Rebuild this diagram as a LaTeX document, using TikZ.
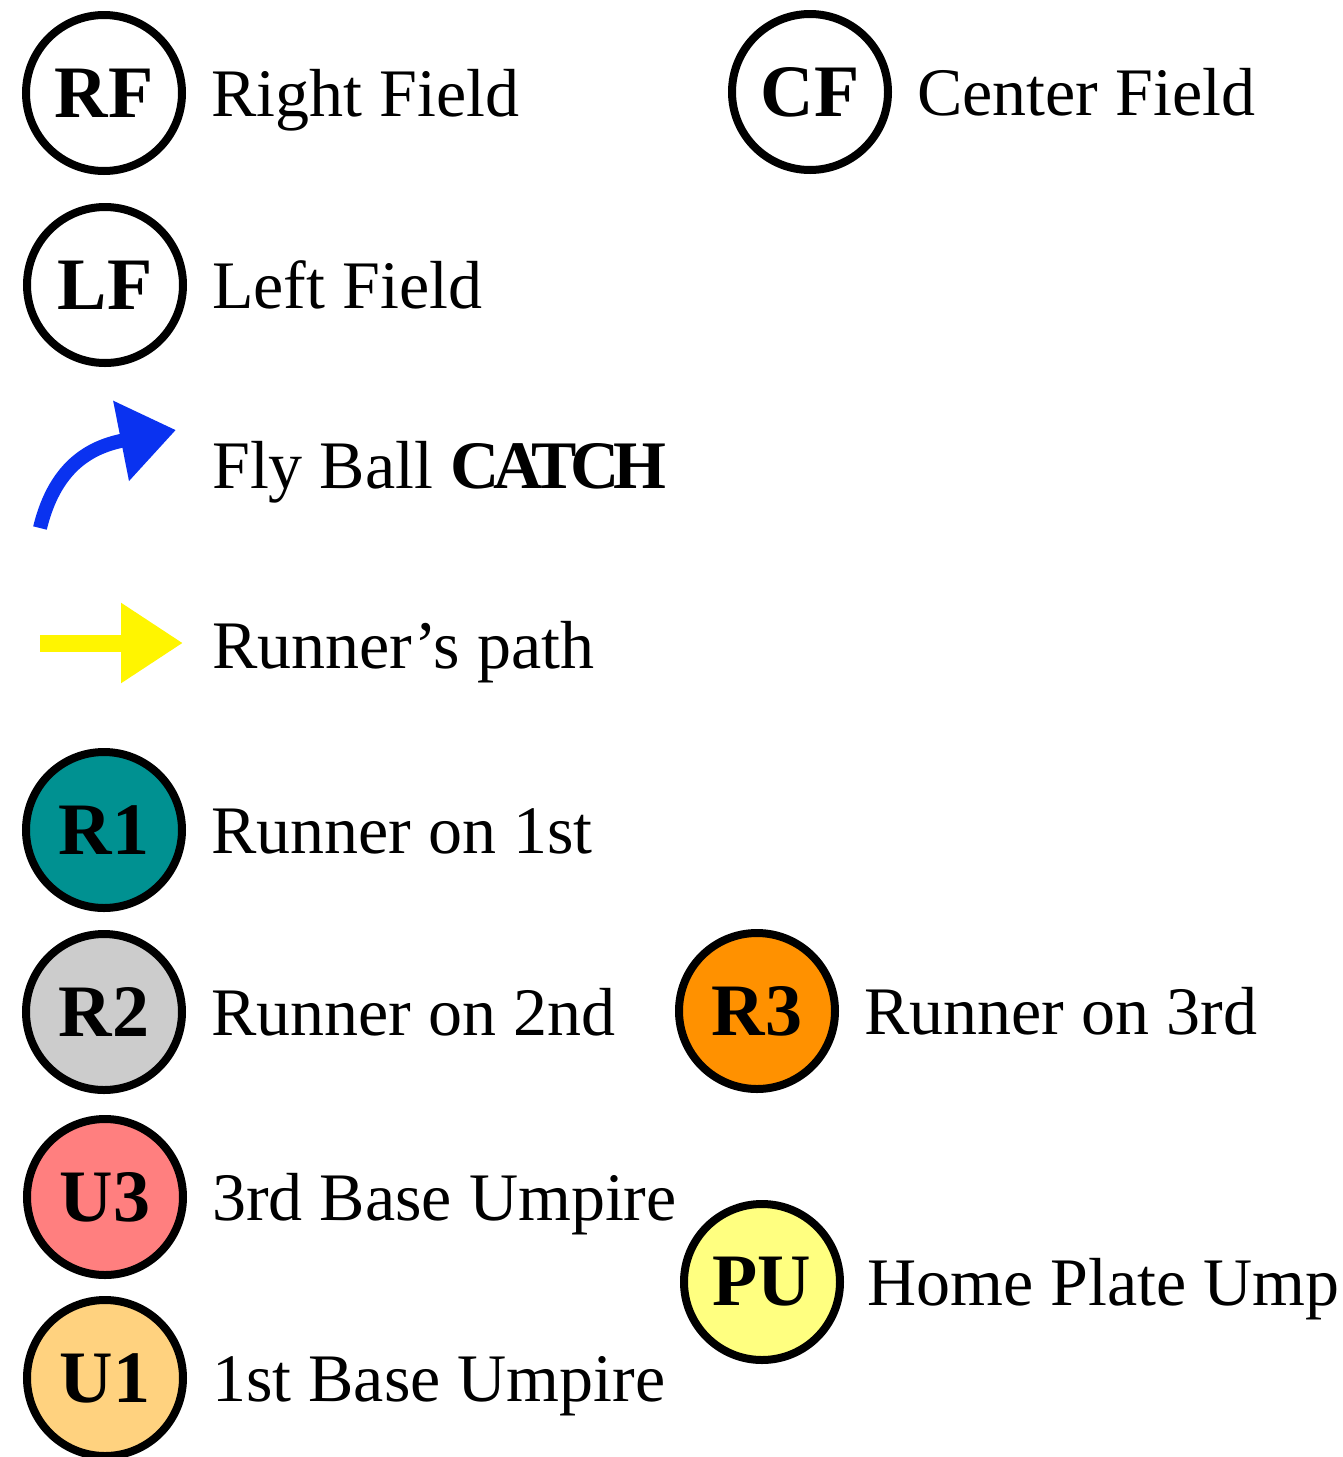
\documentclass[tikz,border=0pt]{standalone}
\usepackage{fontspec}
\setmainfont{Liberation Serif}
\usepackage{tikz}
\usetikzlibrary{arrows.meta,positioning,calc}
\definecolor{cTeal}{HTML}{009191}
\definecolor{cGrey}{HTML}{CCCCCC}
\definecolor{cOrange}{HTML}{FF9100}
\definecolor{cSalmon}{HTML}{FF7F7F}
\definecolor{cPeach}{HTML}{FFD27F}
\definecolor{cLemon}{HTML}{FFFF80}
\definecolor{cBlue}{HTML}{0A32F0}
\definecolor{cYellow}{HTML}{FFF500}

\begin{document}
\begin{tikzpicture}[x=1pt, y=-1pt, node distance=25pt,
  player/.style={circle, draw=black, line width=8pt, fill=#1, minimum size=156pt, inner sep=0pt,
    font=\fontsize{74}{74}\selectfont\bfseries},
  player/.default=white,
  key/.style={text height=46pt, text depth=0pt, inner sep=0pt, font=\fontsize{68}{68}\selectfont}]
  \useasboundingbox (0,0) rectangle (1343,1457);
  \clip (0,0) rectangle (1343,1457);
  % fielders
  \node[player] (rf) at (104,93) {RF};
  \node[key, right=of rf] (rftxt) {Right Field};
  \node[player] (cf) at (810,92) {CF};
  \node[key, right=of cf] (cftxt) {Center Field};
  \node[player] (lf) at (105,285) {LF};
  \node[key, right=of lf] (lftxt) {Left Field};
  % arrows
  \coordinate (fly0) at (40,528);
  \coordinate (fly1) at (176,430);
  \draw[cBlue, line width=14pt, -{Triangle[length=56pt,width=78pt]}]
    (fly0) .. controls (56,462) and (95,446) .. (fly1);
  \node[key, anchor=west] (flytxt) at (212,465) {Fly Ball \textbf{\addfontfeature{LetterSpace=-9}CATCH}};
  \coordinate (run0) at (40,643);
  \coordinate (run1) at (183,643);
  \draw[cYellow, line width=17pt, -{Triangle[length=62pt,width=76pt]}] (run0) -- (run1);
  \node[key, anchor=west] (runtxt) at (212,645) {Runner’s path};
  % runners
  \node[player=cTeal] (r1) at (104,830) {R1};
  \node[key, right=of r1] (r1txt) {Runner on 1st};
  \node[player=cGrey] (r2) at (104,1012) {R2};
  \node[key, right=of r2] (r2txt) {Runner on 2nd};
  \node[player=cOrange] (r3) at (757,1011) {R3};
  \node[key, right=of r3] (r3txt) {Runner on 3rd};
  % umpires
  \node[player=cSalmon] (u3) at (105,1197) {U3};
  \node[key, right=of u3] (u3txt) {3rd Base Umpire};
  \node[player=cPeach] (u1) at (105,1378) {U1};
  \node[key, right=of u1] (u1txt) {1st Base Umpire};
  \node[player=cLemon] (pu) at (762,1282) {PU};
  \node[key, right=23pt of pu] (putxt) {Home Plate Ump};
\end{tikzpicture}
\end{document}
